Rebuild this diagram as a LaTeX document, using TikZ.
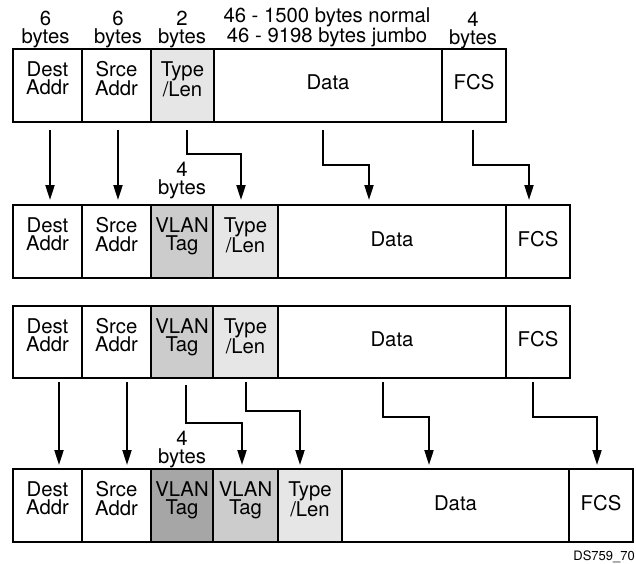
\documentclass[tikz,border=0pt]{standalone}
\usepackage{fontspec}
\setmainfont{TeX Gyre Heros}
\usetikzlibrary{arrows.meta}
\definecolor{lightfill}{HTML}{E6E6E6}
\definecolor{midfill}{HTML}{CCCCCC}
\definecolor{darkfill}{HTML}{A6A6A6}
\tikzset{
  cellbox/.style={draw=black, line width=2pt, outer sep=0pt, inner sep=0pt, anchor=north west, minimum height=72.5pt},
  lbl/.style={font=\fontsize{20.3}{18.3}\selectfont, align=center, inner sep=0pt, anchor=north},
  arr/.style={line width=2pt, -{Triangle[length=15pt,width=9pt]}},
}
% cell: name, x1, x2, top, fill, text, text offset
\newcommand\fcell[7]{%
  \node[cellbox, fill=#5, minimum width={(#3-#2)*1pt}] (#1) at (#2,#4) {};
  \node[lbl] (#1t) at ({(#2+#3)/2},{#4+#7}) {#6};
}
\begin{document}
\begin{tikzpicture}[x=1pt,y=-1pt]
\useasboundingbox (0,0) rectangle (636,563);
\fill[white] (0,0) rectangle (636,563);

% ---- top labels
\node[lbl] (h1) at (45.5,11) {6\\bytes};
\node[lbl] (h2) at (118,11) {6\\bytes};
\node[lbl] (h3) at (182,11) {2\\bytes};
\node[lbl] (h4) at (327,7.5) {46 - 1500 bytes normal\\46 - 9198 bytes jumbo};
\node[lbl] (h5) at (473,11.5) {4\\bytes};

% ---- row 1
\fcell{a1}{13}{82}{49}{white}{Dest\\Addr}{12.5}
\fcell{a2}{82}{151}{49}{white}{Srce\\Addr}{12.5}
\fcell{a3}{151}{214}{49}{lightfill}{Type\\/Len}{12.5}
\fcell{a4}{214}{442}{49}{white}{Data}{25.5}
\fcell{a5}{442}{506}{49}{white}{FCS}{25.5}

% ---- row 2
\fcell{b1}{13}{82}{205}{white}{Dest\\Addr}{12.5}
\fcell{b2}{82}{151}{205}{white}{Srce\\Addr}{12.5}
\fcell{b3}{151}{213}{205}{midfill}{VLAN\\Tag}{12.5}
\fcell{b4}{213}{278}{205}{lightfill}{Type\\/Len}{12.5}
\fcell{b5}{278}{506}{205}{white}{Data}{26}
\fcell{b6}{506}{570}{205}{white}{FCS}{26}

\node[lbl] (m1) at (182,161.5) {4\\bytes};

% ---- row 3
\fcell{c1}{13}{82}{305.5}{white}{Dest\\Addr}{12.5}
\fcell{c2}{82}{151}{305.5}{white}{Srce\\Addr}{12.5}
\fcell{c3}{151}{213}{305.5}{midfill}{VLAN\\Tag}{12.5}
\fcell{c4}{213}{278}{305.5}{lightfill}{Type\\/Len}{12.5}
\fcell{c5}{278}{506}{305.5}{white}{Data}{26}
\fcell{c6}{506}{570}{305.5}{white}{FCS}{26}

% ---- row 4
\fcell{d1}{13}{82}{469}{white}{Dest\\Addr}{12.5}
\fcell{d2}{82}{151}{469}{white}{Srce\\Addr}{12.5}
\fcell{d3}{151}{213}{469}{darkfill}{VLAN\\Tag}{12.5}
\fcell{d4}{213}{278}{469}{midfill}{VLAN\\Tag}{12.5}
\fcell{d5}{278}{342}{469}{lightfill}{Type\\/Len}{12.5}
\fcell{d6}{342}{569}{469}{white}{Data}{26}
\fcell{d7}{569}{633}{469}{white}{FCS}{26}

\node[lbl] (m2) at (182,430.5) {4\\bytes};

% ---- connector end points
\coordinate (p1s) at (50,130);  \coordinate (p1e) at (50,200);
\coordinate (p2s) at (118,130); \coordinate (p2e) at (118,200);
\coordinate (p3s) at (187,130); \coordinate (p3e) at (241,200);
\coordinate (p4s) at (323,130); \coordinate (p4e) at (369,200);
\coordinate (p5s) at (473,130); \coordinate (p5e) at (529,200);

\coordinate (q1s) at (59,382);  \coordinate (q1e) at (59,465);
\coordinate (q2s) at (127,382); \coordinate (q2e) at (127,465);
\coordinate (q3s) at (186,385); \coordinate (q3e) at (242,465);
\coordinate (q4s) at (246,382); \coordinate (q4e) at (300,465);
\coordinate (q5s) at (383,382); \coordinate (q5e) at (429,465);
\coordinate (q6s) at (533,382); \coordinate (q6e) at (597,465);

% ---- connectors row 1 -> row 2
\draw[arr] (p1s) -- (p1e);
\draw[arr] (p2s) -- (p2e);
\draw[arr] (p3s) |- (241,153.5) -- (p3e);
\draw[arr] (p4s) |- (369,164.5) -- (p4e);
\draw[arr] (p5s) |- (529,164.5) -- (p5e);

% ---- connectors row 3 -> row 4
\draw[arr] (q1s) -- (q1e);
\draw[arr] (q2s) -- (q2e);
\draw[arr] (q3s) |- (242,423) -- (q3e);
\draw[arr] (q4s) |- (300,411) -- (q4e);
\draw[arr] (q5s) |- (429,417) -- (q5e);
\draw[arr] (q6s) |- (597,417) -- (q6e);

\node[font=\fontsize{13}{14}\selectfont, inner sep=0pt, anchor=base east] (ds) at (635,560) {DS759\_70};
\end{tikzpicture}
\end{document}
